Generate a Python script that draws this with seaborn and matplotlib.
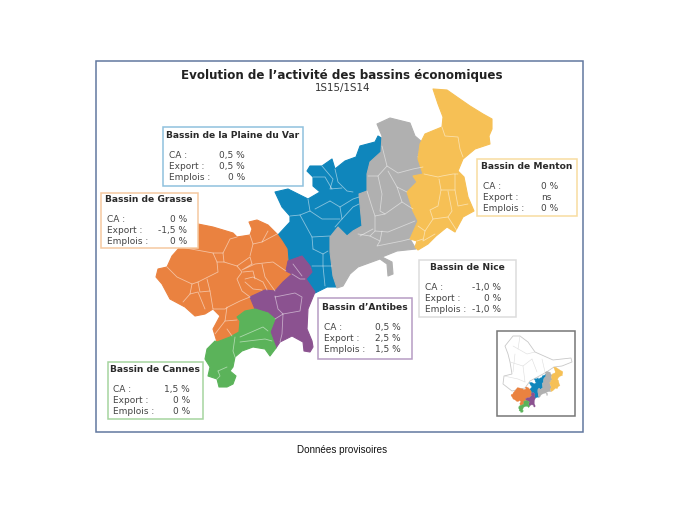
import pandas as pd
import matplotlib.pyplot as plt
from matplotlib.patches import Rectangle
import seaborn as sns

# outlines of the basins in pixels
var_outline = [(378,137),(383,140),(381,153),(370,163),(367,175),(367,192),(359,195),(362,227),(353,232),(347,237),(338,228),(330,238),(330,253),(333,277),(338,288),(327,288),(315,294),(305,280),(312,270),(302,257),(288,262),(287,252),(277,237),(290,223),(290,217),(282,208),(275,193),(288,190),(308,200),(320,193),(313,187),(313,178),(307,172),(310,167),(322,167),(332,160),(335,170),(345,162),(356,158),(360,147),(375,143)]
nice_outline = [(377,125),(390,119),(410,124),(415,137),(422,143),(417,158),(423,168),(423,175),(413,177),(417,183),(407,193),(413,212),(418,222),(410,240),(416,250),(397,252),(382,258),(392,263),(393,275),(388,277),(387,265),(380,260),(358,268),(350,275),(343,287),(337,289),(333,277),(330,253),(330,238),(338,228),(347,237),(353,232),(362,227),(359,195),(367,192),(367,175),(370,163),(381,153),(382,137)]
menton_outline = [(433,90),(447,91),(457,98),(470,107),(483,115),(492,120),(492,130),(489,137),(490,145),(475,150),(463,160),(458,172),(464,178),(468,198),(474,212),(463,218),(455,233),(447,228),(436,237),(428,245),(418,251),(415,248),(417,242),(410,240),(418,222),(413,212),(407,193),(417,183),(413,177),(423,175),(418,160),(420,145),(425,135),(442,128),(443,118),(438,105)]
grasse_outline = [(180,248),(198,225),(213,228),(233,234),(237,238),(250,236),(252,230),(249,223),(257,221),(268,226),(277,235),(282,242),(287,250),(288,262),(286,272),(292,275),(283,283),(275,292),(265,291),(250,298),(255,310),(245,312),(237,318),(240,322),(239,333),(230,338),(217,343),(213,330),(220,317),(213,310),(205,315),(195,317),(185,308),(170,300),(162,285),(156,278),(158,270),(167,268),(172,257)]
antibes_outline = [(286,272),(288,262),(302,257),(310,267),(312,273),(306,280),(315,293),(308,310),(307,330),(312,342),(313,348),(310,353),(304,352),(303,343),(292,337),(280,343),(276,349),(270,333),(275,320),(268,314),(255,310),(250,298),(265,291),(275,292),(283,283),(292,275)]
cannes_outline = [(237,318),(245,312),(255,310),(268,314),(275,320),(270,333),(276,349),(270,357),(265,350),(253,348),(242,352),(235,358),(233,368),(230,372),(236,377),(233,385),(227,388),(219,388),(217,380),(208,377),(210,368),(205,360),(207,350),(215,342),(217,343),(230,338),(239,333),(240,322)]
dept_outline = [(505,347),(513,337),(520,337),(528,343),(535,353),(553,361),(571,359),(572,363),(562,367),(554,368),(548,372),(543,375),(530,382),(525,389),(512,392),(503,385),(504,377),(512,375),(510,363),(508,355)]
dept_lines = [
    [(513,347),(527,355),(535,353)],
    [(510,363),(523,367),(532,360)],
    [(523,367),(525,383)],
    [(532,360),(537,373)],
    [(504,377),(518,380),(525,383)],
    [(515,355),(513,373)],
    [(542,360),(545,373)],
    [(520,337),(518,350)],
]

inner_borders = [
    [(167,268),(177,278),(192,285),(198,283),(218,273),(217,263),(213,254),(180,248)],
    [(213,254),(223,254),(224,263),(217,263)],
    [(223,254),(230,240),(237,238)],
    [(224,263),(237,267),(250,258),(252,265)],
    [(250,236),(253,245),(250,257)],
    [(253,245),(262,243),(268,232)],
    [(262,243),(277,235)],
    [(252,265),(242,271),(255,265),(273,263),(283,270),(286,272)],
    [(237,267),(242,273),(237,280),(242,292),(250,298)],
    [(243,273),(253,272),(255,280)],
    [(245,280),(253,278),(263,283),(267,291)],
    [(245,283),(253,290),(262,291)],
    [(262,265),(265,278),(275,292)],
    [(192,285),(190,295),(183,303)],
    [(190,295),(198,293),(205,310)],
    [(198,283),(200,293),(210,292),(213,310)],
    [(207,280),(210,292)],
    [(213,310),(225,310),(228,308),(240,302),(250,298)],
    [(227,308),(225,322),(215,335)],
    [(225,322),(237,321)],
    [(227,330),(232,337)],
    [(322,167),(333,180),(330,190),(342,189)],
    [(313,178),(325,178),(332,190)],
    [(335,170),(338,183),(347,192),(353,193)],
    [(308,200),(310,212),(300,216),(312,238),(313,250)],
    [(330,202),(340,208),(353,200),(359,198)],
    [(310,212),(322,220),(340,220)],
    [(315,210),(330,202)],
    [(340,208),(342,220),(335,228)],
    [(342,220),(353,208),(359,205)],
    [(300,216),(290,217)],
    [(312,238),(330,237)],
    [(313,250),(323,255),(323,267),(332,267)],
    [(323,255),(328,252)],
    [(312,267),(323,267),(325,287)],
    [(382,147),(387,167),(398,174),(413,170),(423,168)],
    [(387,167),(378,177),(368,177)],
    [(378,177),(382,195),(380,212),(385,215)],
    [(388,172),(397,188),(402,203),(413,210)],
    [(397,188),(407,193)],
    [(367,192),(372,208),(375,217),(385,215),(402,203)],
    [(375,217),(375,232),(388,233),(415,222)],
    [(360,237),(373,230)],
    [(375,232),(370,237),(380,242),(382,232)],
    [(380,242),(377,247),(402,242),(410,240)],
    [(358,235),(370,237)],
    [(442,128),(445,137),(458,138),(460,150),(463,158)],
    [(424,175),(438,178),(442,177),(453,175),(458,175)],
    [(439,180),(441,191),(455,191),(455,175)],
    [(455,191),(458,207),(468,205)],
    [(441,191),(438,207),(430,211),(433,220),(448,218),(457,232)],
    [(448,192),(452,212),(448,218)],
    [(418,227),(425,232),(433,220)],
    [(425,232),(423,242),(435,235)],
    [(417,242),(423,240)],
    [(275,297),(278,310),(283,315),(300,312),(302,298),(295,294),(275,298)],
    [(283,315),(282,335),(280,343)],
    [(283,315),(275,320)],
    [(292,275),(300,280),(305,280)],
    [(293,265),(302,277)],
    [(235,338),(233,352),(235,358)],
    [(240,338),(263,328),(268,332)],
    [(240,343),(265,340),(272,342)],
    [(218,372),(220,377),(217,380)],
    [(218,372),(227,368)],
]

bassins = ["Bassin de la Plaine du Var", "Bassin de Grasse", "Bassin de Cannes",
           "Bassin d’Antibes", "Bassin de Nice", "Bassin de Menton"]
ca = ["0,5 %", "0 %", "1,5 %", "0,5 %", "-1,0 %", "0 %"]
export = ["0,5 %", "-1,5 %", "0 %", "2,5 %", "0 %", "ns"]
emplois = ["0 %", "0 %", "0 %", "1,5 %", "-1,0 %", "0 %"]

# x0, y0, x1, y1, title x, title y, label x, value right x, first row y
box_layout = [
    (163,128,303,187,166,136,169,245,156),
    (101,194,198,249,105,200,107,187,220),
    (108,363,203,420,110,370,113,190,390),
    (318,299,412,360,322,308,324,401,328),
    (419,261,516,318,430,268,425,501,288),
    (477,160,577,217,481,167,483,558,187),
]
edge_colors = ["#8fc1de", "#f5c9a0", "#a6d59f", "#b79cc4", "#dcdcdc", "#f8dca0"]

BLUE, ORANGE, GREEN = "#0f86bc", "#ea8240", "#5bb35a"
PURPLE, GREY, YELLOW = "#8b5290", "#b0b0b0", "#f6c055"
regions = [(var_outline, BLUE), (nice_outline, GREY), (menton_outline, YELLOW),
           (grasse_outline, ORANGE), (antibes_outline, PURPLE), (cannes_outline, GREEN)]


def lines_frame(segments):
    rows = []
    for i, seg in enumerate(segments):
        for x, y in seg:
            rows.append({"seg": i, "x": x, "y": y})
    return pd.DataFrame(rows)


sns.set_theme(style="white")
plt.rcParams['font.family'] = ['DejaVu Sans']

fig = plt.figure(figsize=(6.8, 5.1), dpi=100)
ax = fig.add_axes([0, 0, 1, 1])
ax.set_xlim(0, 680)
ax.set_ylim(510, 0)
ax.axis("off")

ax.add_patch(Rectangle((95.5, 62), 487.5, 371, fc="white", ec="#62789f", lw=1.1, zorder=1))

for outline, color in regions:
    ax.fill([p[0] for p in outline], [p[1] for p in outline], fc=color, ec=color,
            lw=0.8, joinstyle="round", zorder=2)
sns.lineplot(data=lines_frame(inner_borders), x="x", y="y", units="seg", estimator=None,
             sort=False, color="white", lw=0.6, alpha=0.5, ax=ax, zorder=3, legend=False)

ax.text(341.5, 75, "Evolution de l’activité des bassins économiques", ha="center", va="center",
        fontsize=8.55, fontweight="bold", color="#222222", zorder=6)
ax.text(342.5, 88.5, "1S15/1S14", ha="center", va="center", fontsize=7.4, color="#333333", zorder=6)

for i, name in enumerate(bassins):
    x0, y0, x1, y1, tx, ty, lx, vx, ry = box_layout[i]
    ax.add_patch(Rectangle((x0, y0), x1 - x0, y1 - y0, fc="white", ec=edge_colors[i], lw=1.1, zorder=4))
    ax.text(tx, ty, name, ha="left", va="center", fontsize=6.6, fontweight="bold", color="#2a2a2a", zorder=6)
    rows = [("CA :", ca[i]), ("Export :", export[i]), ("Emplois :", emplois[i])]
    for j, (label, value) in enumerate(rows):
        y = ry + j * 11
        ax.text(lx, y, label, ha="left", va="center", fontsize=6.5, color="#444444", zorder=6)
        right = vx - 6 if value == "ns" else vx
        ax.text(right, y, value, ha="right", va="center", fontsize=6.5, color="#444444", zorder=6)

# small locator map
ax.add_patch(Rectangle((497, 332), 78, 85, fc="white", ec="#777777", lw=1.1, zorder=4))
ax.fill([p[0] for p in dept_outline], [p[1] for p in dept_outline], fc="white", ec="#c8c8c8", lw=0.6, zorder=5)
sns.lineplot(data=lines_frame(dept_lines), x="x", y="y", units="seg", estimator=None,
             sort=False, color="#dddddd", lw=0.4, ax=ax, zorder=5, legend=False)
for outline, color in regions:
    ax.fill([p[0] * 0.154 + 487 for p in outline], [p[1] * 0.152 + 354.4 for p in outline],
            fc=color, ec=color, lw=0.2, zorder=6)

ax.set_xlabel("")
ax.set_ylabel("")
ax.text(342.5, 450, "Données provisoires", ha="center", va="center", fontsize=7.15,
        family="Liberation Sans", color="#111111")

fig.savefig("out.png", dpi=100)
